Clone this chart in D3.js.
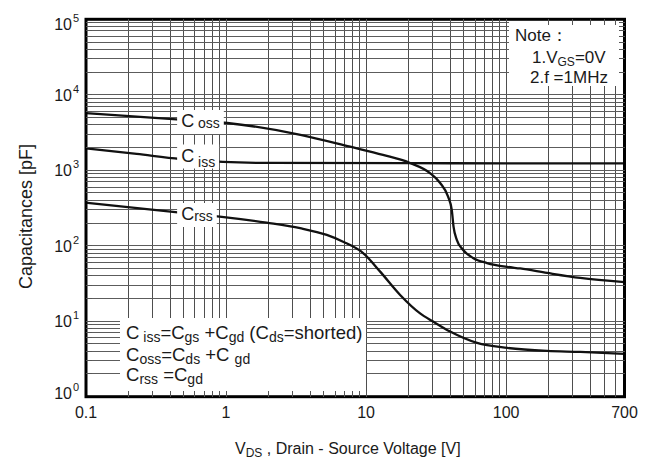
<!DOCTYPE html>
<html><head><meta charset="utf-8">
<script src="https://cdn.jsdelivr.net/npm/d3@7/dist/d3.min.js"></script>
<style>
body{margin:0;background:#fff}
text{font-family:"Liberation Sans",Arial,sans-serif;fill:#1a1a1a}
</style>
</head><body>
<svg id="chart" width="653" height="461"></svg>
<script>
// ---- data ----
const cossV = [0.1, 0.47, 1.02, 3.4, 7.7, 13.2, 20.6, 28.6, 33.8, 38.5, 40.9, 42.1, 44.5, 49.3, 58, 73, 102, 126, 196, 338, 700];
const cossC = [5700, 4700, 4230, 2950, 2050, 1600, 1250, 918, 678, 447, 298, 179, 119, 88, 69, 59, 52.4, 50, 43.6, 37.4, 33];
const cissV = [0.1, 0.23, 0.47, 0.95, 2.07, 40, 700];
const cissC = [1950, 1644, 1410, 1290, 1250, 1238, 1230];
const crssV = [0.1, 0.47, 0.9, 1.95, 3.38, 5.24, 6.85, 9.52, 12.6, 17.5, 24.3, 30.1, 39.8, 62, 102, 196, 338, 700];
const crssC = [372, 274, 243, 202, 171, 139, 113, 80, 45.4, 22.3, 12.7, 9.9, 7.3, 5.16, 4.43, 4.04, 3.92, 3.69];
const xTickValues = [0.1, 1, 10, 100, 700];
const xTickLabels = ["0.1", "1", "10", "100", "700"];
const yTickExponents = [0, 1, 2, 3, 4, 5];
const xTitle = ["V", "DS", " , Drain - Source Voltage [V]"];
const yTitle = "Capacitances [pF]";
const noteLines = [[["Note：", 0]], [["1.V", 0], ["GS", 1], ["=0V", 0]], [["2.f =1MHz", 0]]];
const legendLines = [
  [["C", 0], [" iss", 1], ["=C", 0], ["gs", 1], [" +C", 0], ["gd", 1], ["  (C", 0], ["ds", 1], ["=shorted)", 0]],
  [["C", 0], ["oss", 1], ["=C", 0], ["ds", 1], [" +C ", 0], ["gd", 1]],
  [["C", 0], ["rss", 1], [" =C", 0], ["gd", 1]]
];
const curveLabels = [["C", " oss"], ["C", " iss"], ["C", "rss"]];

// ---- layout ----
const svg = d3.select("#chart");
const L = 86, R = 624.5, T = 19.3, B = 396.7;
const x = d3.scaleLog().domain([0.1, 700]).range([L, R]);
const y = d3.scaleLog().domain([1, 1e5]).range([B, T]);

// grid
const xGrid = [], yGrid = [];
[0.1, 1, 10, 100].forEach(d => { for (let k = 1; k <= 9; k++) { const v = +(k * d).toPrecision(3); if (v > 0.1 && v < 700) xGrid.push(v); } });
[1, 10, 100, 1000, 10000].forEach(d => { for (let k = 1; k <= 9; k++) { const v = k * d; if (v > 1 && v < 1e5) yGrid.push(v); } });
const g = svg.append("g").attr("shape-rendering", "crispEdges");
g.selectAll(".vg").data(xGrid).join("line").attr("x1", d => x(d)).attr("x2", d => x(d)).attr("y1", T).attr("y2", B).attr("stroke", "#4e4e4e").attr("stroke-width", 1);
g.selectAll(".hg").data(yGrid).join("line").attr("x1", L).attr("x2", R).attr("y1", d => y(d)).attr("y2", d => y(d)).attr("stroke", "#5c5c5c").attr("stroke-width", 1);

// curves
const line = d3.line().x(d => x(d[0])).y(d => y(d[1])).curve(d3.curveMonotoneX);
const series = [d3.zip(cossV, cossC), d3.zip(cissV, cissC), d3.zip(crssV, crssC)];
svg.selectAll(".curve").data(series).join("path").attr("d", line).attr("fill", "none").attr("stroke", "#111").attr("stroke-width", 2.3);

// white boxes
function whiteRect(x0, y0, x1, y1) { svg.append("rect").attr("x", x0).attr("y", y0).attr("width", x1 - x0).attr("height", y1 - y0).attr("fill", "#fff"); }
whiteRect(509, T + 1.5, R - 1.5, 86);
whiteRect(120, 318, 366, B - 1.5);

// curve labels
const labelBase = [127, 161.5, 220];
const labelX = 0.47;
const labelLayer = svg.append("g");
curveLabels.forEach((lab, i) => {
  const px = x(labelX) + 1, base = labelBase[i];
  const grp = labelLayer.append("g");
  const bg = grp.append("rect").attr("fill", "#fff");
  const t = grp.append("text").attr("x", px).attr("y", base);
  t.append("tspan").attr("font-size", 18).text(lab[0]);
  t.append("tspan").attr("font-size", 14).attr("dy", i === 1 ? 5 : 1).text(lab[1]);
  const bb = t.node().getBBox();
  bg.attr("x", bb.x - 4).attr("y", base - 17).attr("width", bb.width + 8).attr("height", 24);
});

// frame
svg.append("rect").attr("x", L).attr("y", T).attr("width", R - L).attr("height", B - T).attr("fill", "none").attr("stroke", "#000").attr("stroke-width", 3);

// inner ticks
const tk = svg.append("g").attr("stroke", "#555").attr("stroke-width", 1).attr("shape-rendering", "crispEdges");
xGrid.forEach(v => { tk.append("line").attr("x1", x(v)).attr("x2", x(v)).attr("y1", B).attr("y2", B - 6); tk.append("line").attr("x1", x(v)).attr("x2", x(v)).attr("y1", T).attr("y2", T + 6); });
yGrid.forEach(v => { tk.append("line").attr("x1", L).attr("x2", L + 6).attr("y1", y(v)).attr("y2", y(v)); tk.append("line").attr("x1", R).attr("x2", R - 6).attr("y1", y(v)).attr("y2", y(v)); });

// x tick labels
svg.selectAll(".xt").data(xTickValues).join("text").attr("x", d => x(d)).attr("y", 418).attr("text-anchor", "middle").attr("font-size", 16).text((d, i) => xTickLabels[i]);

// y tick labels
yTickExponents.forEach(e => {
  let cy = y(Math.pow(10, e));
  if (e === 5) cy += 5; if (e === 0) cy -= 4;
  svg.append("text").attr("x", 72).attr("y", cy + 6).attr("text-anchor", "end").attr("font-size", 16).text("10");
  svg.append("text").attr("x", 73).attr("y", cy - 2).attr("font-size", 11).text(String(e));
});

// axis titles
const xt = svg.append("text").attr("x", 235).attr("y", 454).attr("font-size", 16);
xt.append("tspan").text(xTitle[0]);
xt.append("tspan").attr("font-size", 12).attr("dy", 3).text(xTitle[1]);
xt.append("tspan").attr("dy", -3).text(xTitle[2]);
svg.append("text").attr("transform", "translate(32,216.5) rotate(-90)").attr("text-anchor", "middle").attr("font-size", 18).text(yTitle);

// note
const noteX = [515, 532, 530], noteY = [41, 63, 83];
noteLines.forEach((ln, i) => {
  const t = svg.append("text").attr("x", noteX[i]).attr("y", noteY[i]).attr("font-size", 17);
  let prev = 0;
  ln.forEach(([s, sub]) => { t.append("tspan").attr("font-size", sub ? 12 : 17).attr("dy", (sub ? 3 : 0) - prev).text(s); prev = sub ? 3 : 0; });
});

// legend text
const legY = [339, 361, 381];
legendLines.forEach((ln, i) => {
  const t = svg.append("text").attr("x", 126).attr("y", legY[i]).attr("font-size", 18.5);
  let prev = 0;
  ln.forEach(([s, sub]) => { const sh = sub ? 2.5 : 0; t.append("tspan").attr("font-size", sub ? 14 : 18.5).attr("dy", sh - prev).text(s); prev = sh; });
});
</script>
</body></html>
